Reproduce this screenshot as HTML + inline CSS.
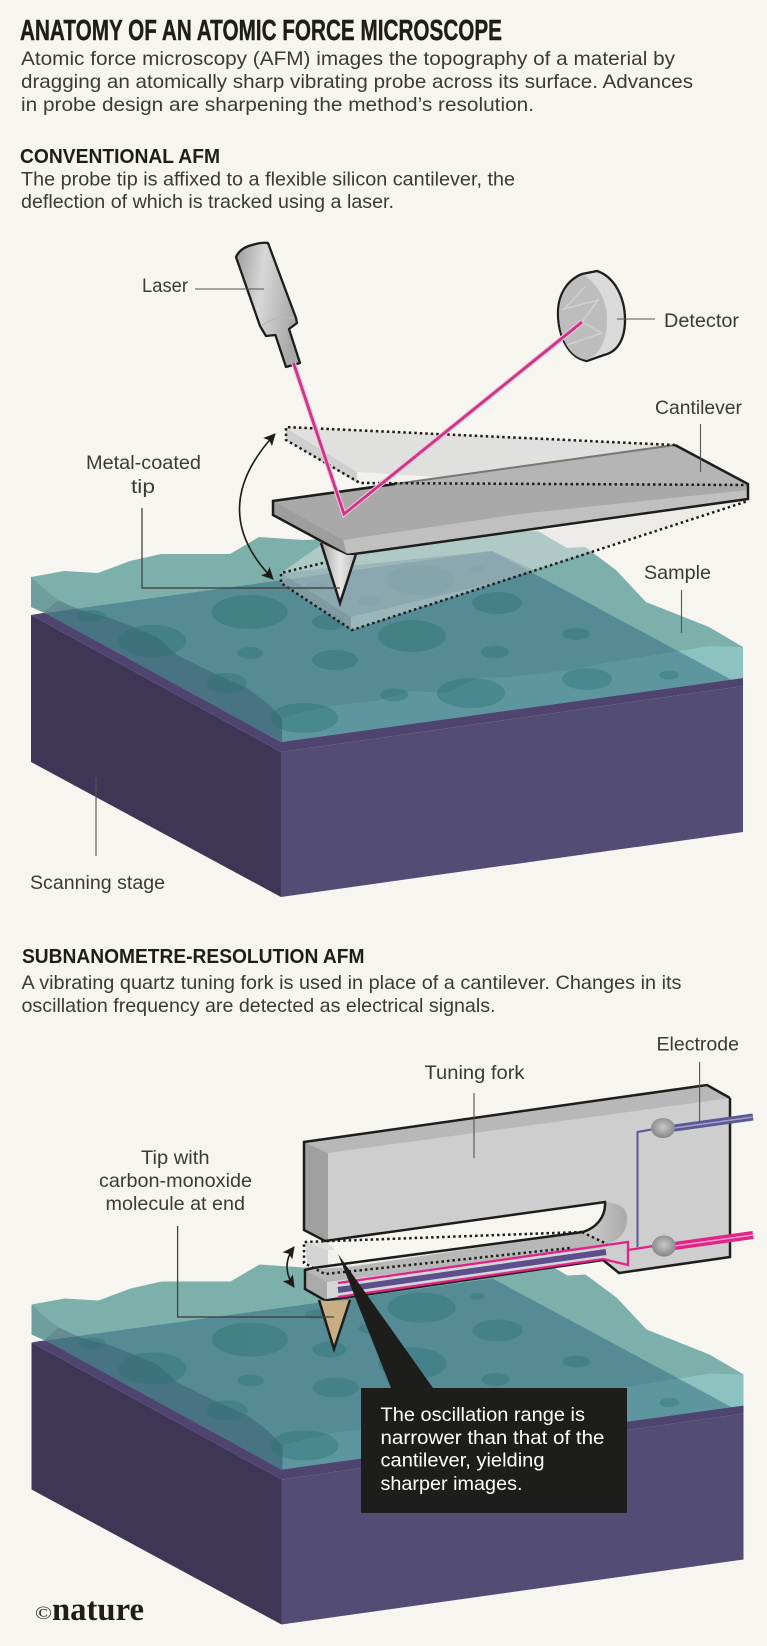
<!DOCTYPE html>
<html><head><meta charset="utf-8"><style>
html,body{margin:0;padding:0;background:#f6f5ef}
svg{display:block}
text{font-family:"Liberation Sans",sans-serif;fill:#3a3a38}
.b{font-size:19.500px}.l{font-size:19.500px}
.h{font-weight:bold;font-size:20px;fill:#1d1d1b}
.w{fill:#fff;font-size:19.500px}
.ld{stroke:#555;stroke-width:1.100;fill:none}
.k{stroke:#1d1d1b;stroke-linejoin:miter;fill:none}
.dot{stroke:#1d1d1b;stroke-width:2.500;stroke-dasharray:2.500 3;fill:none}
</style></head><body>
<svg width="767" height="1646" viewBox="0 0 767 1646" xmlns="http://www.w3.org/2000/svg">
<defs>
<linearGradient id="cyl" x1="0" y1="0" x2="1" y2="0.250"><stop offset="0" stop-color="#9c9c9c"/><stop offset=".45" stop-color="#d8d8d8"/><stop offset="1" stop-color="#a8a8a8"/></linearGradient>
<linearGradient id="tipg" x1="0" y1="0" x2="1" y2="0"><stop offset="0" stop-color="#a5a5a5"/><stop offset=".55" stop-color="#e6e6e6"/><stop offset="1" stop-color="#bdbdbd"/></linearGradient>
<radialGradient id="ball" cx=".5" cy=".45" r=".6"><stop offset="0" stop-color="#c8c8c8"/><stop offset="1" stop-color="#808080"/></radialGradient>
<linearGradient id="slot" x1="0" y1="0" x2="1" y2="0"><stop offset="0" stop-color="#d0d0d0"/><stop offset="1" stop-color="#a9a9a9"/></linearGradient>
<marker id="ah" viewBox="0 0 12 12" refX="11" refY="6" markerWidth="12" markerHeight="12" markerUnits="userSpaceOnUse" orient="auto-start-reverse"><path d="M0 0L12 6L0 12L2.500 6Z" fill="#1d1d1b"/></marker>
<clipPath id="sil"><path d="M31 577L64 571L98 573L130 561L161 554L230 554L259 537L303 540L538 531L567 548L585 547L616 570L646 602L709 627L743 647L743 678L281 742L47 614L31 607Z"/></clipPath>
<g id="base">
  <path d="M31 615L281 752L281 897L31 762Z" fill="#3f3656"/>
  <path d="M281 752L743 686L743 832L281 897Z" fill="#534d76"/>
  <path d="M31 615L43 613L743 660L743 686L281 752Z" fill="#4f4370"/>
  <g clip-path="url(#sil)">
    <rect x="0" y="500" width="767" height="300" fill="#7db0ab"/>
    <path d="M31 577L43 588L58 600L80 610L110 618L133 627L157 637L177 655L207 670L247 688L267 703L282 718L282 750L31 620Z" fill="#6f9f9c"/>
    <path d="M282 718L303 712L337 705L380 700L410 691L447 693L477 678L510 677L570 670L610 662L685 650L709 646L743 647L743 690L282 750Z" fill="#8cc2bf"/>
    <path d="M31 615L492 551L743 686L281 752Z" fill="#144e6e" opacity=".38"/>
    <path d="M43 613L58 600L80 610L110 618L133 627L157 637L177 655L207 670L247 688L267 703L282 718L282 742Z" fill="#3a3560" opacity=".18"/>
    <g fill="#2a7275" opacity=".38">
      <ellipse cx="249.500" cy="612" rx="38" ry="17"/><ellipse cx="152" cy="641" rx="34" ry="16"/><ellipse cx="91.500" cy="616" rx="14" ry="6"/>
      <ellipse cx="329" cy="622" rx="17" ry="8"/><ellipse cx="412" cy="636" rx="34" ry="16"/><ellipse cx="497" cy="603" rx="25" ry="11"/>
      <ellipse cx="421" cy="580" rx="34" ry="15"/><ellipse cx="477" cy="569" rx="7" ry="3.500"/><ellipse cx="369" cy="601" rx="11" ry="5"/>
      <ellipse cx="316" cy="587" rx="12" ry="5"/><ellipse cx="576" cy="634" rx="14" ry="6"/><ellipse cx="250" cy="653" rx="13" ry="6"/>
      <ellipse cx="335" cy="660" rx="23" ry="10"/><ellipse cx="495" cy="652" rx="14" ry="6.500"/><ellipse cx="226" cy="683" rx="21" ry="10"/>
      <ellipse cx="394" cy="695" rx="14" ry="6.500"/><ellipse cx="471" cy="693" rx="34" ry="15"/><ellipse cx="587" cy="679" rx="25" ry="11"/>
      <ellipse cx="669" cy="675" rx="10" ry="4.500"/><ellipse cx="304" cy="718" rx="34" ry="15"/>
    </g>
  </g>
</g>
</defs>
<rect width="767" height="1646" fill="#f6f5ef"/>

<!-- header -->
<text x="20" y="40" style="font-size:28.500px;font-weight:bold;fill:#1d1d1b;stroke:#1d1d1b;stroke-width:.4" textLength="482" lengthAdjust="spacingAndGlyphs">ANATOMY OF AN ATOMIC FORCE MICROSCOPE</text>
<text class="b" x="21" y="65" textLength="654" lengthAdjust="spacingAndGlyphs">Atomic force microscopy (AFM) images the topography of a material by</text>
<text class="b" x="21" y="88" textLength="672" lengthAdjust="spacingAndGlyphs">dragging an atomically sharp vibrating probe across its surface. Advances</text>
<text class="b" x="21" y="111" textLength="513" lengthAdjust="spacingAndGlyphs">in probe design are sharpening the method’s resolution.</text>
<text class="h" x="20" y="163" textLength="200" lengthAdjust="spacingAndGlyphs">CONVENTIONAL AFM</text>
<text class="b" x="21" y="185.500" textLength="494" lengthAdjust="spacingAndGlyphs">The probe tip is affixed to a flexible silicon cantilever, the</text>
<text class="b" x="21" y="208" textLength="373" lengthAdjust="spacingAndGlyphs">deflection of which is tracked using a laser.</text>

<!-- scene 1 -->
<use href="#base"/>
<path d="M342 530L538 531L748 500L352 630L281 583L281 573Z" fill="#e1e1e1" opacity=".5"/>
<path d="M281 573L492 551L538 572L351 617Z" fill="#5a7f8f" opacity=".25"/>
<path d="M281 573L351 617L351 630L281 583Z" fill="#4d6e78" opacity=".35"/>
<path class="dot" d="M323 563L281 573L281 583L352 630L748 501"/>
<path d="M142 508V588H340" fill="none" stroke="#444" stroke-width="1.300"/>

<!-- upper ghost -->
<path d="M286 427L675 445L748 485L360 483L286 440Z" fill="#e0e0df"/>
<path d="M286 428L357 472L357 483L286 440Z" fill="#cfcfcf"/>
<path d="M357 472L450 478L395 484H357Z" fill="#f1f1ee"/>

<!-- solid cantilever -->
<path d="M273 501L395 484L675 445L748 484L748 499L347 555L273 515Z" fill="#a9a9a9"/>
<path d="M395 484L675 445L748 484Z" fill="#b5b5b5"/>
<path d="M395 484L748 484V486L395 486Z" fill="#a9a9a9"/>
<path d="M343 540L520 514L748 490L748 499L347 555Z" fill="#c0c0c0"/>
<path d="M273 501L343 540L347 555L273 515Z" fill="#9e9e9e"/>
<path d="M395 484L675 445" stroke="#777" stroke-width="2" fill="none"/>
<path class="k" stroke-width="2.500" d="M395 484L273 501V515L347 555L748 499V484L675 445"/>
<path class="dot" d="M675 445L286 427V440L360 483L748 485"/>
<path d="M321 543L340 603L355.700 555L347 555Z" fill="url(#tipg)"/>
<path class="k" stroke-width="2.500" d="M321 543L340 603L355.700 555"/>
<path d="M142 588H340" stroke="#444" stroke-width="1.300"/>
<path d="M275 434Q205 510 273 579" fill="none" stroke="#1d1d1b" stroke-width="1.600" marker-start="url(#ah)" marker-end="url(#ah)"/>

<!-- laser -->
<path d="M236 257Q240 248 252 245Q262 242 268 243L296 318L297 323L289 329L300 363L286 367L275.400 335L266 336L260 326Z" fill="url(#cyl)" stroke="#1d1d1b" stroke-width="2.300" stroke-linejoin="round"/>
<path d="M262 326Q272 316 294 318" fill="none" stroke="#b9b9b9" stroke-width="1.500"/>

<!-- detector -->
<path d="M582 274L597 271C615 277 625 298 625 320C625 340 617 352 604 355L587 361C568 358 558 335 558 313C558 295 567 280 582 274Z" fill="#dadada" stroke="#1d1d1b" stroke-width="2.300"/>
<path d="M584 275C598 285 607 300 607 320C607 340 600 354 587 360C568 358 559 335 559 313C559 295 568 280 584 275Z" fill="#bdbdbd"/>
<path d="M586 286L564 309L598 300L582 322L602 333L567 345" fill="none" stroke="#d0d0d0" stroke-width="1.500"/>
<path d="M293.500 363L344 514L582 322" fill="none" stroke="#eec3da" stroke-width="5" stroke-linejoin="miter"/>
<path d="M293.500 363L344 514L582 322" fill="none" stroke="#cf3485" stroke-width="2.800" stroke-linejoin="miter"/>

<!-- scene 1 leaders and labels -->
<path class="ld" d="M195 289H264M617 319H655M700.500 424V472M681.500 590V633M96 777V856"/>
<text class="l" x="142" y="292" textLength="46" lengthAdjust="spacingAndGlyphs">Laser</text>
<text class="l" x="664" y="327" textLength="75" lengthAdjust="spacingAndGlyphs">Detector</text>
<text class="l" x="655" y="414" textLength="87" lengthAdjust="spacingAndGlyphs">Cantilever</text>
<text class="l" x="86" y="469" textLength="115" lengthAdjust="spacingAndGlyphs">Metal-coated</text>
<text class="l" x="131" y="493" textLength="24" lengthAdjust="spacingAndGlyphs">tip</text>
<text class="l" x="644" y="579" textLength="67" lengthAdjust="spacingAndGlyphs">Sample</text>
<text class="l" x="30" y="889" textLength="135" lengthAdjust="spacingAndGlyphs">Scanning stage</text>

<!-- section 2 header -->
<text class="h" x="22" y="963" textLength="342.500" lengthAdjust="spacingAndGlyphs">SUBNANOMETRE-RESOLUTION AFM</text>
<text class="b" x="21.500" y="989" textLength="660" lengthAdjust="spacingAndGlyphs">A vibrating quartz tuning fork is used in place of a cantilever. Changes in its</text>
<text class="b" x="21.500" y="1012" textLength="474" lengthAdjust="spacingAndGlyphs">oscillation frequency are detected as electrical signals.</text>

<!-- scene 2 -->
<use href="#base" transform="translate(.5 727.500)"/>
<path d="M177.600 1226V1317H334" fill="none" stroke="#444" stroke-width="1.300"/>

<!-- ghost tine -->
<path d="M305 1242L582 1232L607 1243L350 1272L320 1275L307 1263Z" fill="#dedede"/>
<path d="M328 1250L460 1243L570 1234L350 1266L328 1268Z" fill="#f1f1ee"/>
<path d="M305 1242L328 1250V1268L307 1263Z" fill="#d4d4d4"/>

<!-- fork body -->
<path d="M304 1142L707 1085L730 1098V1257L619 1273L603 1260L570 1264L327 1300L305 1289V1270L350 1267L582 1232L605 1217L605 1202L325 1241L304 1230Z" fill="#cecece"/>
<path d="M304 1142L707 1085L730 1098L328 1153Z" fill="#b8b8b8"/>
<path d="M304 1142L328 1153V1241L325 1241L304 1230Z" fill="#a0a0a0"/>
<path d="M325 1241L605 1202C606 1217 596 1228 583 1232L367 1260L350 1262Z" fill="#f6f5ef"/>
<path d="M605 1202Q628 1203 627 1220Q626 1238 607 1244L583 1232C596 1228 606 1217 605 1202Z" fill="url(#slot)"/>
<!-- lower tine -->
<path d="M305 1270L350 1267L582 1232L607 1243L600 1248L327 1282Z" fill="#b8b8b8"/>
<path d="M327 1282L600 1248L603 1260L570 1264L327 1300Z" fill="#d6d6d6"/>
<path d="M305 1270L327 1282V1300L305 1289Z" fill="#aaa"/>
<!-- outlines -->
<path class="k" stroke-width="2.500" d="M730 1098L707 1085L304 1142V1230L325 1241L605 1202C606 1217 596 1228 583 1232L313 1268L305 1270V1289L325 1300.500L603 1260L619 1273L730 1257V1098"/>
<!-- wires on tine -->
<path d="M338 1283L628 1242V1265L603 1259L338 1297" fill="none" stroke="#e0258a" stroke-width="2.300"/>
<path d="M338 1290L606 1252" fill="none" stroke="#5c4f8e" stroke-width="6"/>
<path d="M628 1250L660 1245" fill="none" stroke="#e0258a" stroke-width="2.300"/>
<path d="M637.500 1247V1132L660 1128" fill="none" stroke="#5c5796" stroke-width="2"/>
<path d="M660 1130L753 1117" fill="none" stroke="#5c5796" stroke-width="7"/>
<path d="M660 1130L753 1117" fill="none" stroke="#a5a1c2" stroke-width="1.500"/>
<path d="M660 1248L753 1235" fill="none" stroke="#e0258a" stroke-width="8"/>
<path d="M660 1248L753 1235" fill="none" stroke="#f19ac8" stroke-width="1.500"/>
<ellipse cx="663" cy="1128" rx="12" ry="10" fill="url(#ball)"/>
<ellipse cx="664" cy="1246" rx="12" ry="10.500" fill="url(#ball)"/>
<path class="dot" d="M582 1232L304 1242V1263L325 1274L570 1248M582 1232L607 1244"/>

<!-- tip 2 -->
<path d="M319 1300L334 1349L350 1300L327 1301Z" fill="#c9ae85"/>
<path class="k" stroke-width="2.500" d="M319 1300L334 1349L350 1300"/>
<path d="M177.600 1317H334" stroke="#444" stroke-width="1.300"/>
<path d="M294 1247Q280 1266 294 1287" fill="none" stroke="#1d1d1b" stroke-width="1.600" marker-start="url(#ah)" marker-end="url(#ah)"/>

<!-- callout -->
<path d="M338 1254L391 1388H361V1513H627V1388H433Z" fill="#1d1d1b"/>
<text class="w" x="380.500" y="1421" textLength="204.500" lengthAdjust="spacingAndGlyphs">The oscillation range is</text>
<text class="w" x="380.500" y="1444" textLength="224" lengthAdjust="spacingAndGlyphs">narrower than that of the</text>
<text class="w" x="380.500" y="1466.500" textLength="164" lengthAdjust="spacingAndGlyphs">cantilever, yielding</text>
<text class="w" x="380.500" y="1490" textLength="142" lengthAdjust="spacingAndGlyphs">sharper images.</text>

<!-- scene 2 labels -->
<path class="ld" d="M699.600 1062V1122M474 1093V1158"/>
<text class="l" x="656.500" y="1050.500" textLength="82.500" lengthAdjust="spacingAndGlyphs">Electrode</text>
<text class="l" x="424.500" y="1079" textLength="100" lengthAdjust="spacingAndGlyphs">Tuning fork</text>
<text class="l" x="141" y="1164" textLength="68.500" lengthAdjust="spacingAndGlyphs">Tip with</text>
<text class="l" x="99" y="1187" textLength="153" lengthAdjust="spacingAndGlyphs">carbon-monoxide</text>
<text class="l" x="105.500" y="1210" textLength="139.500" lengthAdjust="spacingAndGlyphs">molecule at end</text>

<!-- nature -->
<text x="35" y="1619" style="font-family:'Liberation Serif',serif;font-size:19px;fill:#1d1d1b" textLength="17" lengthAdjust="spacingAndGlyphs">©</text>
<text x="52" y="1620" style="font-family:'Liberation Serif',serif;font-size:33px;font-weight:bold;fill:#1d1d1b" textLength="92" lengthAdjust="spacingAndGlyphs">nature</text>
</svg>
</body></html>
